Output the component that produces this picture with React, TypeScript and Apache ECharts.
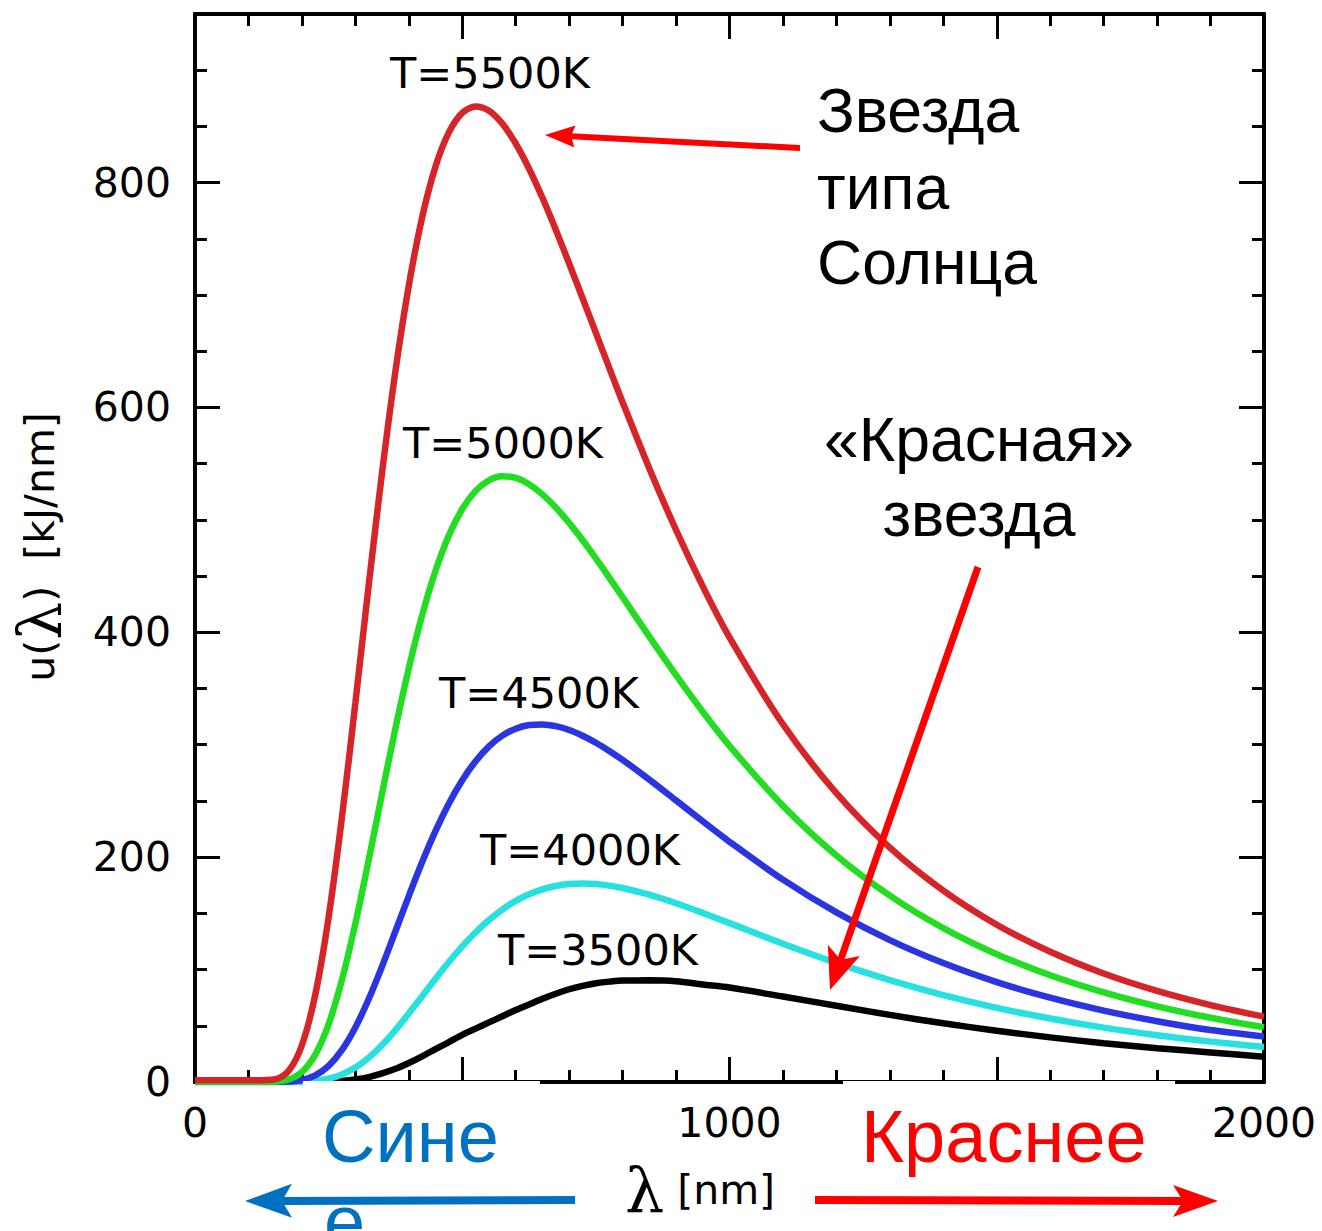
import React, { useEffect, useRef } from "react";
import * as echarts from "echarts";

// Wavelength grid, nm
const wavelengths = [
  0, 100, 150, 175, 200, 225, 250, 275, 300, 325, 350, 375, 400, 425, 450, 475,
  500, 525, 550, 575, 600, 625, 650, 675, 700, 725, 750, 775, 800, 850, 900, 950,
  1000, 1100, 1200, 1300, 1400, 1500, 1600, 1700, 1800, 1900, 2000,
];

// Spectral energy density u(λ), kJ/nm, for each temperature
const u5500 = [
  1.5, 1.5, 2.5, 9.8, 32.7, 77.6, 146.6, 235.7, 337.1, 441.9, 542.2, 632.3, 708.4,
  769.2, 814.4, 844.7, 862.0, 867.8, 864.0, 852.5, 834.8, 812.4, 786.5, 758.1,
  728.1, 697.4, 666.3, 635.2, 604.7, 545.8, 491.0, 440.9, 395.5, 318.2, 256.9,
  208.4, 170.2, 139.9, 115.8, 96.5, 81.0, 68.4, 58.1,
];
const u5000 = [
  0, 0, 0.3, 2.2, 8.8, 24.3, 51.5, 91.0, 140.9, 197.5, 256.7, 314.6, 368.1, 415.2,
  454.7, 486.2, 509.7, 525.8, 535.2, 538.8, 537.4, 531.7, 522.7, 511.1, 497.3,
  482.1, 465.7, 448.7, 431.3, 396.2, 361.9, 329.3, 299.0, 245.6, 201.5, 165.8,
  136.9, 113.7, 94.9, 79.7, 67.2, 57.1, 48.7,
];
const u4500 = [
  0, 0, 0, 0.4, 1.8, 5.9, 14.3, 28.5, 48.5, 73.8, 102.9, 134.1, 165.4, 195.6, 223.3,
  247.7, 268.5, 285.4, 298.6, 308.1, 314.3, 317.5, 318.1, 316.5, 313.1, 308.0,
  301.8, 294.5, 286.5, 269.0, 250.5, 231.9, 213.7, 180.0, 150.9, 126.2, 105.8,
  88.9, 75.0, 63.5, 54.1, 46.2, 40.5,
];
const u4000 = [
  0, 0, 0, 0, 0.2, 1.0, 2.9, 6.7, 12.8, 21.6, 32.9, 46.2, 60.9, 76.3, 91.8, 106.7,
  120.6, 133.2, 144.1, 153.4, 161.1, 167.0, 171.4, 174.4, 176.1, 176.6, 176.1,
  174.7, 172.6, 166.6, 159.0, 150.4, 141.3, 123.0, 105.9, 90.6, 77.3, 66.0, 56.5,
  48.4, 41.6, 35.9, 31.1,
];
const u3500 = [
  0, 0, 0, 0, 0, 0.1, 0.4, 1.0, 2.3, 4.4, 7.6, 11.7, 16.9, 22.8, 29.3, 35.5, 42.0,
  47.5, 53.0, 58.5, 64.0, 69.0, 74.0, 78.5, 82.5, 85.5, 87.8, 89.3, 90.3, 90.4,
  89.6, 86.7, 84.0, 76.0, 67.8, 59.7, 52.2, 45.6, 39.7, 34.5, 30.1, 26.3, 22.5,
];

const curveNames = ["T=3500K", "T=4000K", "T=4500K", "T=5000K", "T=5500K"];
const curveValues = [u3500, u4000, u4500, u5000, u5500];
const curveColors = ["#000000", "#27e0e0", "#2a34e0", "#22dd22", "#d62528"];

const xTickLabels = [0, 1000, 2000];
const yTickLabels = [0, 200, 400, 600, 800];

const SANS = "DejaVu Sans";
const ARIAL = "Liberation Sans";
const SERIF = "DejaVu Serif";

function xAxisBase(position: "bottom" | "top", showLabels: boolean) {
  return {
    type: "value",
    position,
    min: 0,
    max: 2000,
    interval: 500,
    axisLine: { show: true, onZero: false, lineStyle: { color: "#000", width: 4 } },
    axisTick: { show: true, inside: true, length: 25, lineStyle: { color: "#000", width: 3 } },
    minorTick: { show: true, splitNumber: 5, length: 12, lineStyle: { color: "#000", width: 3 } },
    splitLine: { show: false },
    minorSplitLine: { show: false },
    axisLabel: showLabels
      ? {
          show: true,
          margin: 20,
          color: "#000",
          fontSize: 41,
          fontFamily: SANS,
          formatter: (v: number) => (xTickLabels.includes(v) ? String(v) : ""),
        }
      : { show: false },
  };
}

function yAxisBase(position: "left" | "right", interval: number, tickLen: number, showLabels: boolean) {
  return {
    type: "value",
    position,
    min: 0,
    max: 950,
    interval,
    axisLine: { show: true, onZero: false, lineStyle: { color: "#000", width: 4 } },
    axisTick: { show: true, inside: true, length: tickLen, lineStyle: { color: "#000", width: 3 } },
    splitLine: { show: false },
    axisLabel: showLabels
      ? {
          show: true,
          margin: 24,
          color: "#000",
          fontSize: 41,
          fontFamily: SANS,
          formatter: (v: number) => (yTickLabels.includes(v) ? String(v) : ""),
        }
      : { show: false },
  };
}

// Arrow built from a shaft line and a notched head polygon
function arrow(
  tail: [number, number],
  tip: [number, number],
  color: string,
  width: number,
  headLen: number,
  headHalf: number,
  notch: number
) {
  const dx = tip[0] - tail[0];
  const dy = tip[1] - tail[1];
  const len = Math.hypot(dx, dy);
  const ux = dx / len;
  const uy = dy / len;
  const nx = -uy;
  const ny = ux;
  const bx = tip[0] - ux * headLen;
  const by = tip[1] - uy * headLen;
  const mx = tip[0] - ux * (headLen - notch);
  const my = tip[1] - uy * (headLen - notch);
  return [
    {
      type: "line",
      z: 120,
      shape: { x1: tail[0], y1: tail[1], x2: mx, y2: my },
      style: { stroke: color, lineWidth: width },
    },
    {
      type: "polygon",
      z: 121,
      shape: {
        points: [
          [tip[0], tip[1]],
          [bx + nx * headHalf, by + ny * headHalf],
          [mx, my],
          [bx - nx * headHalf, by - ny * headHalf],
        ],
      },
      style: { fill: color },
    },
  ];
}

function label(text: string, x: number, y: number, size: number, family: string, fill: string, align = "center") {
  return {
    type: "text",
    z: 130,
    x,
    y,
    style: { text, fill, fontSize: size, fontFamily: family, align, verticalAlign: "middle" },
  };
}

export default function App() {
  const ref = useRef<HTMLDivElement>(null);

  useEffect(() => {
    document.body.style.margin = "0";
    if (!ref.current) return;
    const chart = echarts.init(ref.current, undefined, { renderer: "svg" });

    const series = curveNames.map((name, i) => ({
      name,
      type: "line",
      xAxisIndex: 0,
      yAxisIndex: 0,
      data: wavelengths.map((w, k) => [w, curveValues[i][k]]),
      showSymbol: false,
      smooth: 0.3,
      z: 10 + i,
      lineStyle: { color: curveColors[i], width: 6.5 },
      itemStyle: { color: curveColors[i] },
    }));

    const graphic: any[] = [
      // text boxes below the axis that mask part of the baseline
      { type: "rect", z: 100, shape: { x: 303, y: 1081, width: 237, height: 150 }, style: { fill: "#fff" } },
      { type: "rect", z: 100, shape: { x: 843, y: 1081, width: 332, height: 150 }, style: { fill: "#fff" } },

      label("T=5500K", 490, 73, 43, SANS, "#000"),
      label("T=5000K", 503, 443, 43, SANS, "#000"),
      label("T=4500K", 539, 693, 43, SANS, "#000"),
      label("T=4000K", 580, 850, 43, SANS, "#000"),
      label("T=3500K", 598, 950, 43, SANS, "#000"),

      label("Звезда", 817, 110, 62.5, ARIAL, "#000", "left"),
      label("типа", 817, 187, 62.5, ARIAL, "#000", "left"),
      label("Солнца", 817, 262, 62.5, ARIAL, "#000", "left"),
      label("«Красная»", 979, 439, 62.5, ARIAL, "#000"),
      label("звезда", 979, 514, 62.5, ARIAL, "#000"),

      label("Сине", 322, 1136, 74, ARIAL, "#0070C0", "left"),
      label("е", 324, 1221, 74, ARIAL, "#0070C0", "left"),
      label("Краснее", 861, 1136, 74, ARIAL, "#FF0000", "left"),

      // axis titles
      {
        type: "text",
        z: 130,
        x: 40,
        y: 547,
        rotation: Math.PI / 2,
        style: {
          text: "{a|u(}{b|λ}{a|)  [kJ/nm]}",
          align: "center",
          verticalAlign: "middle",
          rich: {
            a: { fontSize: 41, fontFamily: SANS, fill: "#000" },
            b: { fontSize: 60, fontFamily: SERIF, fill: "#000" },
          },
        },
      },
      {
        type: "text",
        z: 130,
        x: 700,
        y: 1190,
        style: {
          text: "{b|λ}{a| [nm]}",
          align: "center",
          verticalAlign: "middle",
          rich: {
            a: { fontSize: 41, fontFamily: SANS, fill: "#000" },
            b: { fontSize: 62, fontFamily: SERIF, fill: "#000" },
          },
        },
      },

      ...arrow([800, 148], [545, 135], "#FF0000", 6, 30, 11, 4),
      ...arrow([978, 567], [830, 990], "#FF0000", 7, 42, 17, 10),
      ...arrow([575, 1200], [245, 1201], "#0070C0", 8, 47, 17, 10),
      ...arrow([815, 1200], [1218, 1201], "#FF0000", 8, 45, 16, 10),
    ];

    chart.setOption({
      animation: false,
      backgroundColor: "#fff",
      grid: { left: 195, right: 58, top: 14, bottom: 149, containLabel: false },
      xAxis: [xAxisBase("bottom", true), xAxisBase("top", false)],
      yAxis: [
        yAxisBase("left", 200, 25, true),
        yAxisBase("left", 50, 12, false),
        yAxisBase("right", 200, 25, false),
        yAxisBase("right", 50, 12, false),
      ],
      series,
      graphic,
    });

    return () => chart.dispose();
  }, []);

  return <div ref={ref} style={{ width: 1322, height: 1231 }} />;
}
